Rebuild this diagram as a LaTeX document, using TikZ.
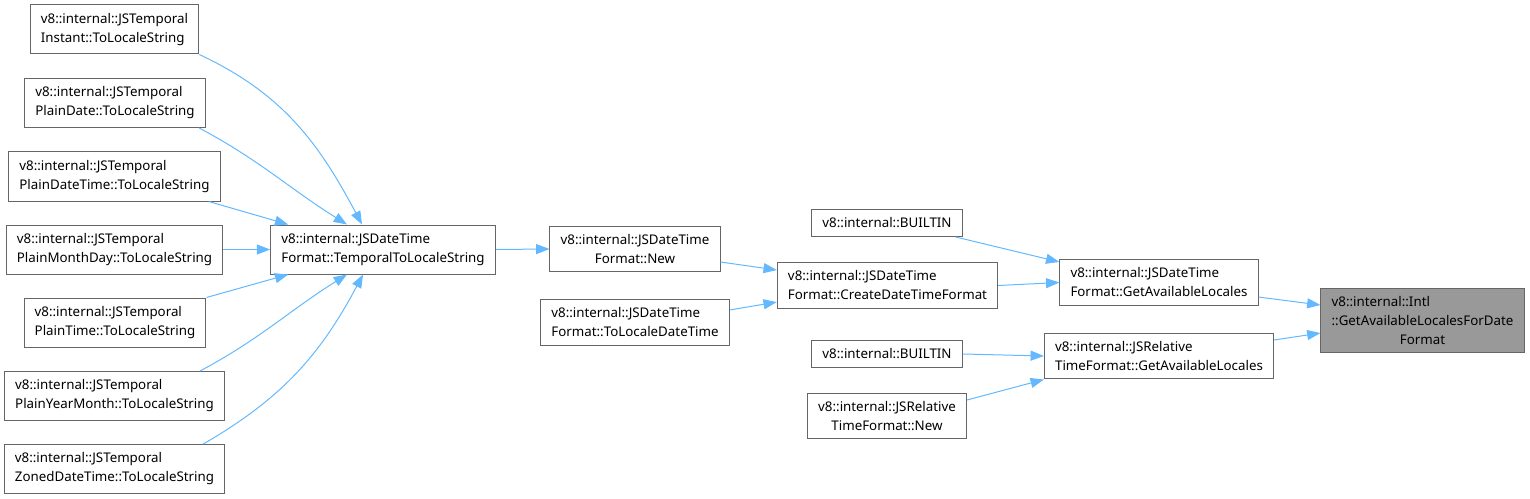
\documentclass[tikz,border=0pt]{standalone}
\usepackage{fontspec}
\setmainfont{Noto Sans}
\usepackage{xcolor}
\usepackage{tikz}
\usetikzlibrary{arrows.meta,positioning,calc}
\definecolor{callblue}{HTML}{63B8FF}
\definecolor{boxline}{HTML}{666666}
\definecolor{focusgray}{HTML}{999999}

\begin{document}
\begin{tikzpicture}[x=0.75pt, y=-0.75pt,
  fn/.style={draw=boxline, line width=0.75pt, fill=white, inner xsep=8pt, inner ysep=6.25pt,
    align=left, font=\fontsize{10}{14.25}\selectfont},
  fnc/.style={fn, align=center},
  focus/.style={fn, fill=focusgray},
  call/.style={-{Triangle[length=10pt,width=7.5pt]}, callblue, line width=0.75pt}]
\useasboundingbox (0,0) rectangle (1530,499);
% callers of TemporalToLocaleString
\node[fn] (inst) at (114.5,29.5) {v8::internal::JSTemporal\\Instant::ToLocaleString};
\node[fn] (pdate) at (115,103) {v8::internal::JSTemporal\\PlainDate::ToLocaleString};
\node[fn] (pdt) at (114.5,176.5) {v8::internal::JSTemporal\\PlainDateTime::ToLocaleString};
\node[fn] (pmd) at (114.5,249.5) {v8::internal::JSTemporal\\PlainMonthDay::ToLocaleString};
\node[fn] (ptime) at (115,322.5) {v8::internal::JSTemporal\\PlainTime::ToLocaleString};
\node[fn] (pym) at (114.5,396) {v8::internal::JSTemporal\\PlainYearMonth::ToLocaleString};
\node[fn] (zdt) at (114.5,469) {v8::internal::JSTemporal\\ZonedDateTime::ToLocaleString};
% middle
\node[fn] (ttls) at (383,249.5) {v8::internal::JSDateTime\\Format::TemporalToLocaleString};
\node[fnc] (dtnew) at (635,249) {v8::internal::JSDateTime\\Format::New};
\node[fn] (tldt) at (635,322.5) {v8::internal::JSDateTime\\Format::ToLocaleDateTime};
\node[fn] (cdtf) at (887.5,285.5) {v8::internal::JSDateTime\\Format::CreateDateTimeFormat};
\node[fn] (bia) at (887,223) {v8::internal::BUILTIN};
\node[fn] (bib) at (887,354) {v8::internal::BUILTIN};
\node[fnc] (rtnew) at (887,416) {v8::internal::JSRelative\\TimeFormat::New};
\node[fn] (dgal) at (1159,282.5) {v8::internal::JSDateTime\\Format::GetAvailableLocales};
\node[fn] (rgal) at (1159,356) {v8::internal::JSRelative\\TimeFormat::GetAvailableLocales};
\node[focus] (intl) at (1422.5,320.5) {v8::internal::Intl\\::GetAvailableLocalesForDate\\\hfil Format};
% edges
\draw[call] (inst.south east) to[out=-25, in=118] ([xshift=-15.75pt]ttls.north);
\draw[call] ([xshift=-5pt]pdate.south east) to[out=-28, in=148] ([xshift=-27pt]ttls.north);
\draw[call] ([xshift=-9pt]pdt.south east) -- ([xshift=13.5pt]ttls.north west);
\draw[call] (pmd.east) -- (ttls.west);
\draw[call] (ptime.north east) -- ([xshift=13.5pt]ttls.south west);
\draw[call] ([xshift=-18.75pt]pym.north east) to[out=28, in=-148] ([xshift=-27pt]ttls.south);
\draw[call] ([xshift=-16.5pt]zdt.north east) to[out=30, in=-118] ([xshift=-15pt]ttls.south);
\draw[call] (ttls.east) -- (dtnew.west);
\draw[call] ([yshift=-9.75pt]dtnew.east) -- ([yshift=11.6pt]cdtf.west);
\draw[call] ([yshift=9.4pt]tldt.east) -- ([yshift=-12.4pt]cdtf.west);
\draw[call] ([xshift=-5.25pt]bia.south east) -- ([yshift=15.4pt]dgal.west);
\draw[call] (cdtf.east) -- (dgal.west);
\draw[call] ([yshift=-10.9pt]dgal.east) -- ([yshift=11.6pt]intl.west);
\draw[call] (bib.east) -- (rgal.west);
\draw[call] ([yshift=12pt]rtnew.east) -- (rgal.south west);
\draw[call] ([yshift=12pt]rgal.east) -- ([yshift=-9.4pt]intl.west);
\end{tikzpicture}
\end{document}
